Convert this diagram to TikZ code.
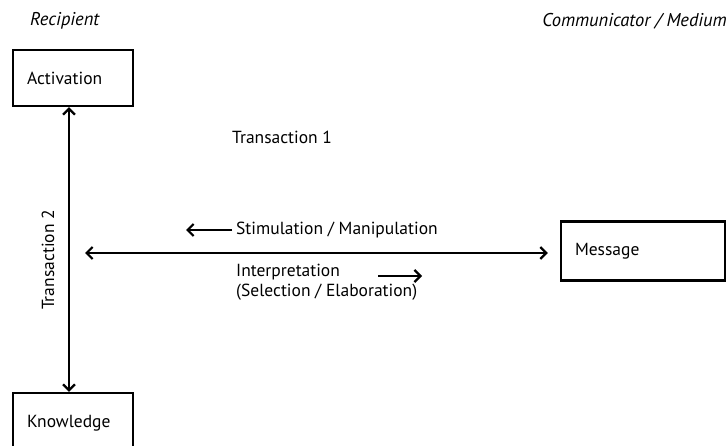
\documentclass[tikz,border=0pt]{standalone}
\usepackage{fontspec}
\setmainfont{PT Sans}
\usetikzlibrary{arrows.meta, positioning}

\begin{document}
\begin{tikzpicture}[x=1pt, y=-1pt,
    box/.style={draw, line width=2.3pt, text width=92pt, align=left, inner xsep=14pt, minimum height=56pt, font=\fontsize{17.5}{19}\selectfont},
    lbl/.style={anchor=west, inner sep=0pt, font=\fontsize{17.5}{19.5}\selectfont},
    head/.style={inner sep=0pt, font=\fontsize{18.5}{20}\selectfont\itshape},
    arrow/.style={line width=2.8pt, -{Straight Barb[length=6pt, width=12pt, line width=2.2pt]}},
    both/.style={arrow, {Straight Barb[length=6pt, width=12pt, line width=2.2pt]}-{Straight Barb[length=6pt, width=12pt, line width=2.2pt]}}
]
    \useasboundingbox (0,0) rectangle (727,446);
    \clip (0,0) rectangle (727,446);

    \node[head, anchor=west] (rec) at (30,21) {Recipient};
    \node[head, anchor=east] (com) at (727,21) {Communicator / Medium};

    \node[box] (act) at (73,78) {Activation};
    \node[box, minimum height=60pt] (kno) at (73,423) {Knowledge};
    \node[box, text width=136pt, minimum height=59pt] (msg) at (643,251) {Message};

    \node[lbl] (tr1) at (232,137) {Transaction 1};
    \node[lbl, rotate=90, anchor=center] (tr2) at (48,260) {Transaction 2};

    \node[lbl] (stim) at (236,230) {Stimulation / Manipulation};
    \node[lbl, align=left] (interp) at (236,282) {Interpretation\\(Selection / Elaboration)};

    \coordinate (left) at (85,253);
    \coordinate (ia) at (378,276);

    \draw[both] ([xshift=-4pt]act.south) -- ([xshift=-4pt]kno.north);
    \draw[both, shorten >=12pt] (left) -- (left -| msg.west);
    \draw[arrow] ([xshift=-4pt]stim.west) -- ([xshift=-50pt]stim.west);
    \draw[arrow] (ia) -- ([xshift=44pt]ia);
\end{tikzpicture}
\end{document}
